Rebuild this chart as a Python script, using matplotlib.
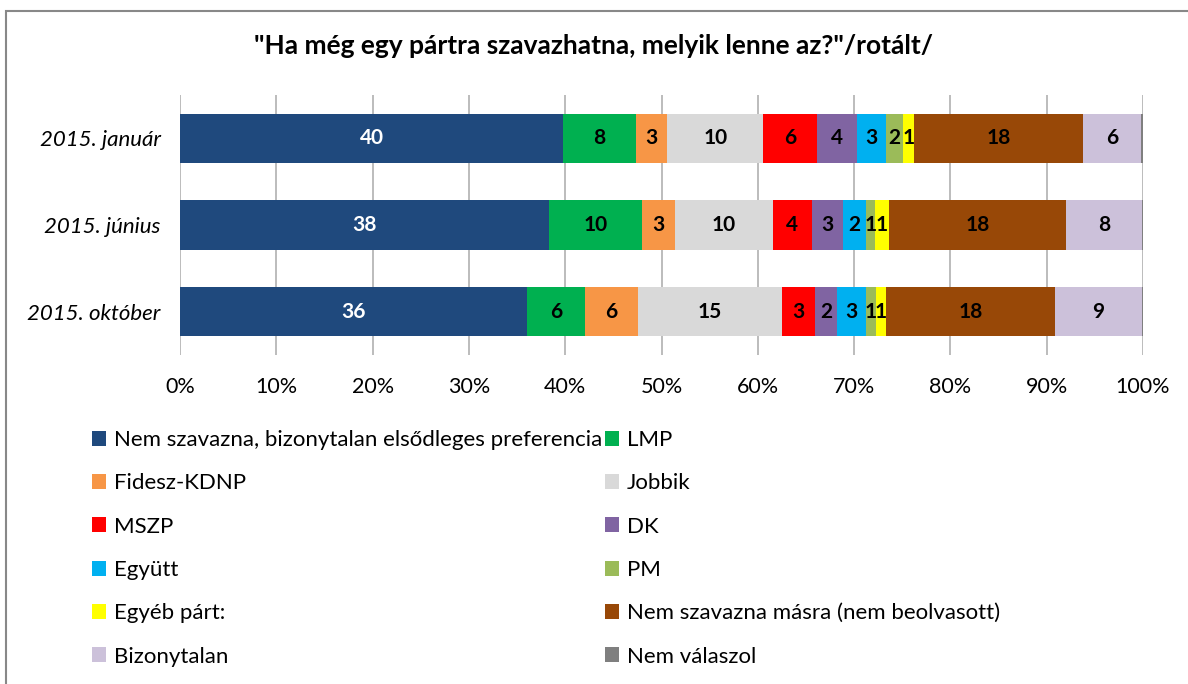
import matplotlib.pyplot as plt
from matplotlib.patches import Patch, Rectangle
import numpy as np

# survey waves (top to bottom)
waves = ['2015. január', '2015. június', '2015. október']

categories = ['Nem szavazna, bizonytalan elsődleges preferencia', 'LMP',
              'Fidesz-KDNP', 'Jobbik', 'MSZP', 'DK', 'Együtt', 'PM',
              'Egyéb párt:', 'Nem szavazna másra (nem beolvasott)',
              'Bizonytalan', 'Nem válaszol']

colors = ['#1F497D', '#00B050', '#F79646', '#D9D9D9', '#FF0000', '#8064A2',
          '#00B0F0', '#9BBB59', '#FFFF00', '#984807', '#CCC1DA', '#7F7F7F']

# share (%) per category, one value per wave (jan, jun, okt)
nem_szavazna_bizonytalan = [39.8, 38.35, 36.0]
lmp = [7.55, 9.62, 6.05]
fidesz = [3.25, 3.46, 5.55]
jobbik = [9.97, 10.1, 14.9]
mszp = [5.54, 4.1, 3.45]
dk = [4.15, 3.25, 2.25]
egyutt = [3.05, 2.35, 3.0]
pm = [1.8, 0.95, 1.1]
egyeb = [1.1, 1.45, 1.0]
nem_szavazna_masra = [17.6, 18.35, 17.6]
bizonytalan = [6.0, 7.9, 8.95]
nem_valaszol = [0.19, 0.12, 0.15]

series = [nem_szavazna_bizonytalan, lmp, fidesz, jobbik, mszp, dk, egyutt,
          pm, egyeb, nem_szavazna_masra, bizonytalan, nem_valaszol]

plt.rcParams['font.family'] = ['Lato', 'DejaVu Sans']

fig = plt.figure(figsize=(11.88, 6.84), dpi=100)
ax = fig.add_axes([180 / 1188, 1 - 355 / 684, 963 / 1188, 260 / 684])

y = np.arange(len(waves))
left = np.zeros(len(waves))
handles = []
for i, (name, vals, col) in enumerate(zip(categories, series, colors)):
    vals = np.array(vals)
    ax.barh(y, vals, left=left, height=0.57, color=col, edgecolor='none', zorder=3)
    for j, v in enumerate(vals):
        if v >= 0.5:
            ax.text(left[j] + v / 2, y[j], f'{v:.0f}', ha='center', va='center',
                    fontsize=15, fontweight='bold',
                    color='white' if i == 0 else 'black', zorder=4)
    left += vals
    handles.append(Patch(facecolor=col, edgecolor='none', label=name))

ax.set_xlim(0, 100)
ax.set_ylim(2.5, -0.5)
ax.set_xticks(np.arange(0, 101, 10))
ax.set_xticklabels([f'{t}%' for t in range(0, 101, 10)], fontsize=15.5)
ax.set_yticks(y)
ax.set_yticklabels(waves, fontsize=16, style='italic')
ax.tick_params(length=0)
ax.tick_params(axis='x', pad=16)
ax.tick_params(axis='y', pad=14)
ax.grid(axis='x', color='#B0B0B0', lw=1.2, zorder=0)
for s in ax.spines.values():
    s.set_visible(False)

fig.text(0.5, 1 - 46 / 684, '"Ha még egy pártra szavazhatna, melyik lenne az?"/rotált/',
         ha='center', va='center', fontsize=19, fontweight='bold')

# legend filled row by row like the original
order = list(range(0, 12, 2)) + list(range(1, 12, 2))
fig.legend([handles[k] for k in order], [categories[k] for k in order],
           ncol=2, loc='upper left', bbox_to_anchor=(72 / 1188, 1 - 410 / 684),
           frameon=False, fontsize=16, handlelength=0.65, handleheight=0.65,
           handletextpad=0.35, labelspacing=1.05, columnspacing=0.1)

fig.patches.append(Rectangle((6 / 1188, -0.1), 1.2, 1.1 - 11 / 684,
                             transform=fig.transFigure, fill=False,
                             edgecolor='#888888', lw=1.5))

fig.savefig('out.png', dpi=100)
